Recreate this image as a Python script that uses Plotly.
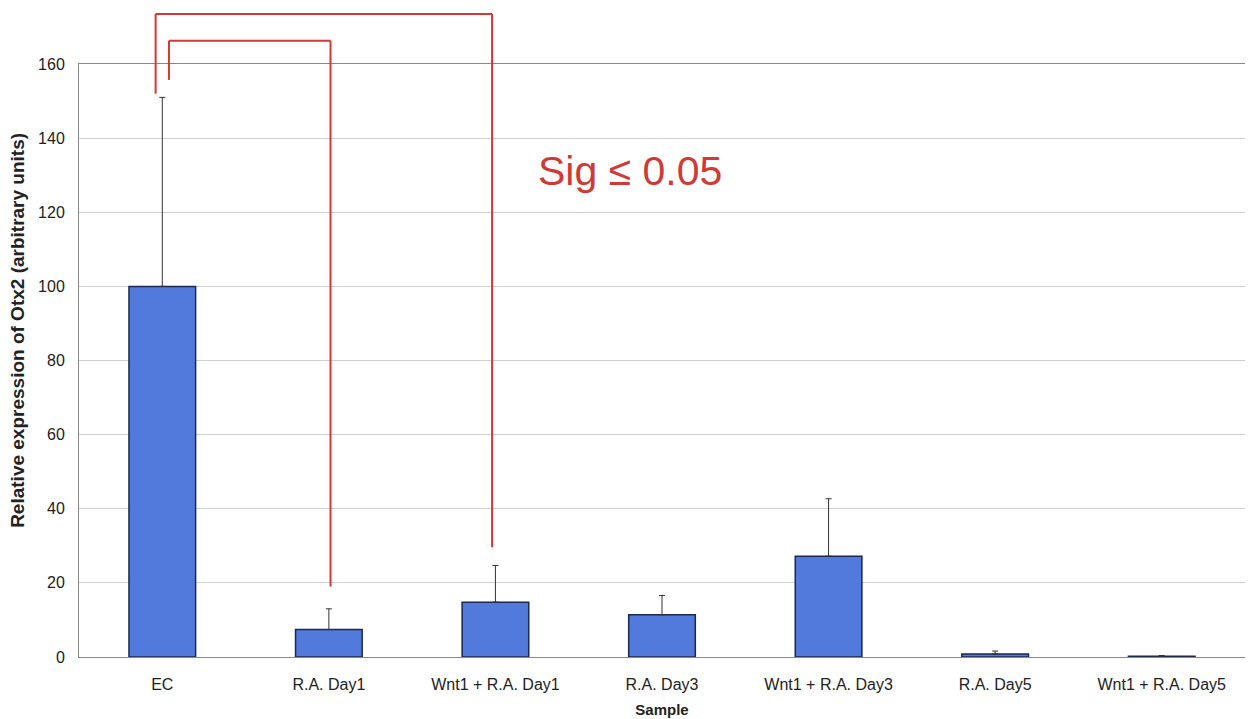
import plotly.graph_objects as go

categories = ["EC", "R.A. Day1", "Wnt1 + R.A. Day1", "R.A. Day3",
              "Wnt1 + R.A. Day3", "R.A. Day5", "Wnt1 + R.A. Day5"]
values = [100.0, 7.4, 14.8, 11.4, 27.2, 0.8, 0.2]
errors_up = [51.0, 5.6, 9.9, 5.2, 15.5, 0.8, 0.2]

y_ticks = [0, 20, 40, 60, 80, 100, 120, 140, 160]
Y_MAX = 160

y_title = "Relative expression of Otx2 (arbitrary units)"
x_title = "Sample"

# significance brackets: (left x, right x, left foot, top, right foot) in axis units
bracket_outer = (-0.04, 1.98, 152.0, 173.5, 29.6)
bracket_inner = (0.04, 1.01, 155.7, 166.3, 19.0)
sig_label = "Sig \u2264 0.05"
sig_label_pos = (2.81, 131.0)

RED = "#cf3a37"
FONT = "Arial, Liberation Sans"

fig = go.Figure()
fig.add_trace(go.Bar(
    x=categories, y=values,
    marker=dict(color="#5279dc", line=dict(color="#1c2850", width=1.5)),
    width=0.4,
    error_y=dict(type="data", symmetric=False, array=errors_up,
                 arrayminus=[0] * len(values),
                 color="#333333", thickness=1, width=3),
))


def ydom(v):
    return v / Y_MAX


for (xl, xr, yl, yt, yr) in (bracket_outer, bracket_inner):
    for (a, b, c, d) in ((xl, yl, xl, yt), (xl, yt, xr, yt), (xr, yt, xr, yr)):
        fig.add_shape(type="line", xref="x", yref="y domain",
                      x0=a, y0=ydom(b), x1=c, y1=ydom(d),
                      line=dict(color=RED, width=2))

fig.add_annotation(x=sig_label_pos[0], y=sig_label_pos[1], xref="x", yref="y",
                   text=sig_label, showarrow=False,
                   font=dict(family=FONT, size=41, color=RED))

# y-axis title (placed slightly above centre, as in the original)
fig.add_annotation(x=0, y=88, xref="paper", yref="y", xshift=-61,
                   text="<b>" + y_title + "</b>", textangle=-90, showarrow=False,
                   xanchor="center", yanchor="middle",
                   font=dict(family=FONT, size=19, color="#222222"))

fig.update_layout(
    width=1245, height=711,
    margin=dict(l=71, r=8, t=56, b=62),
    paper_bgcolor="white", plot_bgcolor="white",
    showlegend=False,
    font=dict(family=FONT, size=16, color="#222222"),
    xaxis=dict(
        type="category", range=[-0.5, len(categories) - 0.5],
        showline=True, linecolor="#888888", linewidth=1, mirror=True,
        showgrid=False, ticks="", ticklabelstandoff=13, automargin=False,
        title=dict(text="<b>" + x_title + "</b>", font=dict(size=15), standoff=12),
    ),
    yaxis=dict(
        range=[0, Y_MAX], tickvals=y_ticks,
        showline=True, linecolor="#888888", linewidth=1, mirror=True,
        showgrid=True, gridcolor="#cfcfcf", gridwidth=1,
        zeroline=False, ticks="", ticklabelstandoff=10, automargin=False,
    ),
)

fig.write_html("out.html")
